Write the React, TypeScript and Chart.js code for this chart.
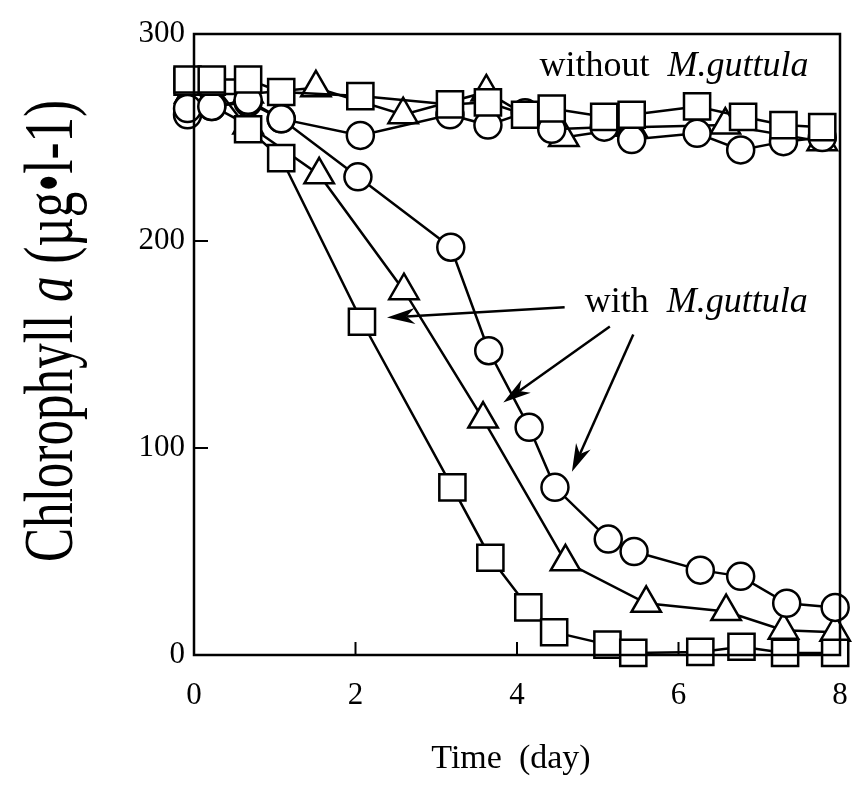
import React, { useEffect, useRef } from "react";
import { Chart, registerables } from "chart.js";

Chart.register(...registerables);

// ---- data ----
const xTicks = [0, 2, 4, 6, 8];
const yTicks = [0, 100, 200, 300];

const withSquareX = [-0.08, 0.22, 0.67, 1.08, 2.08, 3.2, 3.67, 4.14, 4.46, 5.12, 5.44, 6.27, 6.78, 7.32, 7.94];
const withSquareY = [277, 277, 254, 240, 161, 81, 47, 23, 11, 5, 1, 1.5, 4, 1, 1];

const withCircleX = [-0.08, 0.22, 0.67, 1.08, 2.03, 3.18, 3.65, 4.15, 4.47, 5.13, 5.45, 6.27, 6.77, 7.34, 7.94];
const withCircleY = [261, 265, 267, 259, 231, 197, 147, 110, 81, 56, 50, 41, 38, 25, 23];

const withTriangleX = [-0.05, 0.67, 1.55, 2.6, 3.58, 4.6, 5.6, 6.59, 7.3, 7.94];
const withTriangleY = [271, 256, 232, 176, 114, 45, 25, 21, 12, 11];

const withoutSquareX = [-0.08, 0.22, 0.67, 1.08, 2.06, 3.17, 3.64, 4.1, 4.43, 5.08, 5.42, 6.23, 6.8, 7.3, 7.78];
const withoutSquareY = [278, 278, 278, 272, 270, 266, 267, 261, 264, 260, 261, 265, 260, 256, 255];

const withoutCircleX = [-0.08, 0.22, 0.67, 1.08, 2.06, 3.17, 3.64, 4.1, 4.43, 5.08, 5.42, 6.23, 6.77, 7.3, 7.78];
const withoutCircleY = [264, 265, 268, 259, 251, 261, 256, 262, 254, 255, 249, 252, 244, 248, 250];

const withoutTriangleX = [-0.05, 0.67, 1.51, 2.59, 3.62, 4.58, 5.42, 6.58, 7.78];
const withoutTriangleY = [271, 271, 274, 261, 272, 250, 255, 256, 248];

// annotation arrows (data coordinates): tail -> tip
const arrowTailX = [4.59, 5.15, 5.44];
const arrowTailY = [168, 158.7, 154.8];
const arrowTipX = [2.39, 3.83, 4.68];
const arrowTipY = [163, 122, 88.5];

// annotation labels (data coordinates of text start / baseline)
const labelWithout = { plain: "without  ", italic: "M.guttula", x: 4.28, y: 279.6 };
const labelWith = { plain: "with  ", italic: "M.guttula", x: 4.84, y: 165.5 };

const xTitle = "Time  (day)";
const yTitleParts = [
  { t: "Chlorophyll ", it: false },
  { t: "a", it: true },
  { t: " (\u00b5g\u2022l-1)", it: false },
];

const SERIF = '"Liberation Serif", "DejaVu Serif", serif';

function pts(xs: number[], ys: number[]) {
  return xs.map((x, i) => ({ x, y: ys[i] }));
}

function ds(label: string, xs: number[], ys: number[], style: string, radius: number) {
  return {
    label,
    data: pts(xs, ys),
    showLine: true,
    borderColor: "#000",
    borderWidth: 2.5,
    pointStyle: style,
    pointRadius: radius,
    pointHoverRadius: radius,
    pointBorderWidth: 2.5,
    pointBackgroundColor: "#fff",
    pointBorderColor: "#000",
    clip: false as any,
  };
}

const zeroPad = () => ({ left: 0, top: 0, right: 0, bottom: 0 });

const decor = {
  id: "decor",
  afterDraw(chart: any) {
    const { ctx, chartArea, scales } = chart;
    const { left, top, right, bottom } = chartArea;
    const x = scales.x;
    const y = scales.y;
    ctx.save();
    ctx.strokeStyle = "#000";
    ctx.fillStyle = "#000";
    // frame
    ctx.lineWidth = 2.5;
    ctx.strokeRect(left, top, right - left, bottom - top);
    // inward ticks
    ctx.lineWidth = 2;
    for (const t of xTicks) {
      const px = x.getPixelForValue(t);
      ctx.beginPath();
      ctx.moveTo(px, bottom);
      ctx.lineTo(px, bottom - 13);
      ctx.stroke();
    }
    for (const t of yTicks) {
      const py = y.getPixelForValue(t);
      ctx.beginPath();
      ctx.moveTo(left, py);
      ctx.lineTo(left + 14, py);
      ctx.stroke();
    }
    // arrows
    ctx.lineWidth = 2.5;
    for (let i = 0; i < arrowTipX.length; i++) {
      const x0 = x.getPixelForValue(arrowTailX[i]);
      const y0 = y.getPixelForValue(arrowTailY[i]);
      const x1 = x.getPixelForValue(arrowTipX[i]);
      const y1 = y.getPixelForValue(arrowTipY[i]);
      const ang = Math.atan2(y1 - y0, x1 - x0);
      const len = 28, hw = 8;
      const bx = x1 - Math.cos(ang) * len;
      const by = y1 - Math.sin(ang) * len;
      const nx = x1 - Math.cos(ang) * len * 0.7;
      const ny = y1 - Math.sin(ang) * len * 0.7;
      ctx.beginPath();
      ctx.moveTo(x0, y0);
      ctx.lineTo(nx, ny);
      ctx.stroke();
      ctx.beginPath();
      ctx.moveTo(x1, y1);
      ctx.lineTo(bx - Math.sin(ang) * hw, by + Math.cos(ang) * hw);
      ctx.lineTo(nx, ny);
      ctx.lineTo(bx + Math.sin(ang) * hw, by - Math.cos(ang) * hw);
      ctx.closePath();
      ctx.fill();
    }
    // labels
    ctx.textBaseline = "alphabetic";
    ctx.textAlign = "left";
    for (const lab of [labelWithout, labelWith]) {
      let px = x.getPixelForValue(lab.x);
      const py = y.getPixelForValue(lab.y);
      ctx.font = `36px ${SERIF}`;
      ctx.fillText(lab.plain, px, py);
      px += ctx.measureText(lab.plain).width;
      ctx.font = `italic 36px ${SERIF}`;
      ctx.fillText(lab.italic, px, py);
    }
    // x title
    ctx.font = `34px ${SERIF}`;
    ctx.textAlign = "center";
    ctx.fillText(xTitle, (left + right) / 2 - 6, 768);
    // y title (condensed, rotated)
    ctx.textAlign = "left";
    const fs = 70;
    let total = 0;
    const widths: number[] = [];
    for (const p of yTitleParts) {
      ctx.font = `${p.it ? "italic " : ""}${fs}px ${SERIF}`;
      const w = ctx.measureText(p.t).width;
      widths.push(w);
      total += w;
    }
    const target = 462;
    ctx.translate(72, 331);
    ctx.rotate(-Math.PI / 2);
    ctx.scale(target / total, 1);
    let cx = -total / 2;
    yTitleParts.forEach((p, i) => {
      ctx.font = `${p.it ? "italic " : ""}${fs}px ${SERIF}`;
      ctx.fillText(p.t, cx, 0);
      cx += widths[i];
    });
    ctx.restore();
  },
};

export default function App() {
  const ref = useRef<HTMLCanvasElement | null>(null);
  useEffect(() => {
    const prevMargin = document.body.style.margin;
    document.body.style.margin = "0";
    const canvas = ref.current!;
    const chart = new Chart(canvas, {
      type: "scatter",
      data: {
        datasets: [
          ds("without square", withoutSquareX, withoutSquareY, "rect", 18.5),
          ds("with square", withSquareX, withSquareY, "rect", 18.5),
          ds("without circle", withoutCircleX, withoutCircleY, "circle", 13.5),
          ds("with circle", withCircleX, withCircleY, "circle", 13.5),
          ds("without triangle", withoutTriangleX, withoutTriangleY, "triangle", 17),
          ds("with triangle", withTriangleX, withTriangleY, "triangle", 17),
        ] as any,
      },
      options: {
        animation: false,
        responsive: false,
        devicePixelRatio: 1,
        layout: { autoPadding: false, padding: { left: 0, top: 34, right: 16, bottom: 0 } },
        plugins: { legend: { display: false }, tooltip: { enabled: false } },
        events: [],
        scales: {
          x: {
            type: "linear",
            min: 0,
            max: 8,
            afterBuildTicks: (s: any) => {
              s.ticks = xTicks.map((v) => ({ value: v }));
            },
            afterFit: (s: any) => {
              s.height = 133;
              s.paddingLeft = 0;
              s.paddingRight = 0;
              s.getPadding = zeroPad;
            },
            grid: { display: false, drawTicks: false },
            border: { display: false },
            ticks: {
              color: "#000",
              font: { family: SERIF, size: 31 },
              padding: 22,
              maxRotation: 0,
            },
          },
          y: {
            type: "linear",
            min: 0,
            max: 300,
            afterBuildTicks: (s: any) => {
              s.ticks = yTicks.map((v) => ({ value: v }));
            },
            afterFit: (s: any) => {
              s.width = 194;
              s.paddingTop = 0;
              s.paddingBottom = 0;
              s.getPadding = zeroPad;
            },
            grid: { display: false, drawTicks: false },
            border: { display: false },
            ticks: {
              color: "#000",
              font: { family: SERIF, size: 31 },
              padding: 9,
            },
          },
        },
      },
      plugins: [decor],
    });
    return () => {
      chart.destroy();
      document.body.style.margin = prevMargin;
    };
  }, []);
  return (
    <div style={{ position: "absolute", left: 0, top: 0, width: 856, height: 788, background: "#fff" }}>
      <canvas ref={ref} width={856} height={788} style={{ display: "block" }} />
    </div>
  );
}
